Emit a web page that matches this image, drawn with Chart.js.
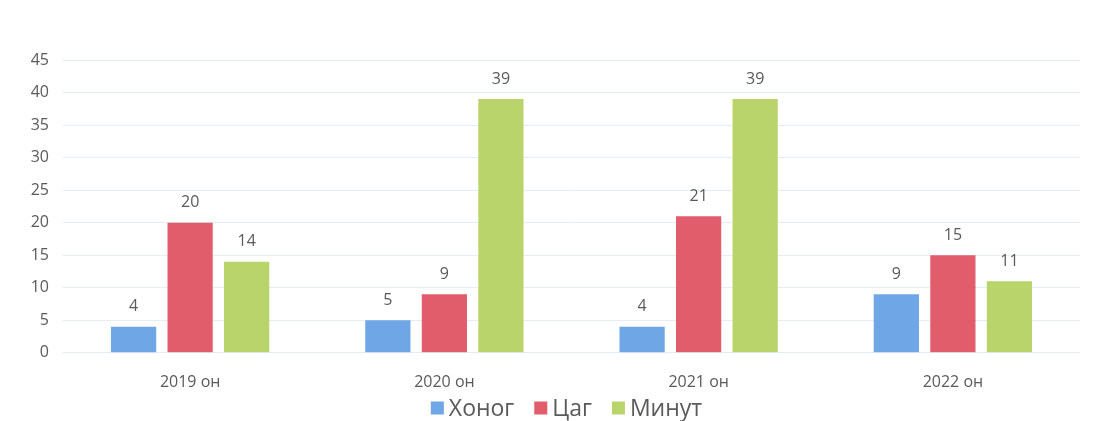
<!DOCTYPE html>
<html>
<head>
<meta charset="utf-8">
<script src="https://cdn.jsdelivr.net/npm/chart.js@4"></script>
<style>
  body { margin: 0; background: #ffffff; }
  #wrap { width: 1111px; height: 421px; position: relative; }
</style>
</head>
<body>
<div id="wrap"><canvas id="chart"></canvas></div>
<script>
// data
const years = ["2019 он", "2020 он", "2021 он", "2022 он"];
const khonog = [4, 5, 4, 9];
const tsag = [20, 9, 21, 15];
const minut = [14, 39, 39, 11];
const yTicks = [0, 5, 10, 15, 20, 25, 30, 35, 40, 45];

const textColor = "#5a5a5a";
const fontFamily = "'Open Sans', 'DejaVu Sans', sans-serif";

// labels above each bar
const valueLabels = {
  id: "valueLabels",
  afterDatasetsDraw(chart) {
    const ctx = chart.ctx;
    ctx.save();
    ctx.font = "16px " + fontFamily;
    ctx.fillStyle = textColor;
    ctx.textAlign = "center";
    ctx.textBaseline = "bottom";
    chart.data.datasets.forEach((ds, i) => {
      chart.getDatasetMeta(i).data.forEach((bar, j) => {
        ctx.fillText(ds.data[j], bar.x, bar.y - 12);
      });
    });
    ctx.restore();
  },
};

// legend drawn under the x labels (built-in one takes too much room)
const bottomLegend = {
  id: "bottomLegend",
  afterDraw(chart) {
    const ctx = chart.ctx;
    const box = 13, gap = 5, spacing = 20;
    ctx.save();
    ctx.font = "23px " + fontFamily;
    ctx.textBaseline = "middle";
    const items = chart.data.datasets.map((ds) => ({
      text: ds.label,
      color: ds.backgroundColor,
      w: box + gap + ctx.measureText(ds.label).width,
    }));
    const total = items.reduce((s, it) => s + it.w, 0) + spacing * (items.length - 1);
    const area = chart.chartArea;
    let x = (area.left + area.right) / 2 - total / 2 - 5;
    const y = chart.height - 13;
    items.forEach((it) => {
      ctx.fillStyle = it.color;
      ctx.fillRect(x, y - box / 2, box, box);
      ctx.fillStyle = textColor;
      ctx.fillText(it.text, x + box + gap, y + 1);
      x += it.w + spacing;
    });
    ctx.restore();
  },
};

new Chart(document.getElementById("chart"), {
  type: "bar",
  data: {
    labels: years,
    datasets: [
      { label: "Хоног", data: khonog, backgroundColor: "#6fa6e6" },
      { label: "Цаг", data: tsag, backgroundColor: "#e15d6c" },
      { label: "Минут", data: minut, backgroundColor: "#b8d46b" },
    ],
  },
  options: {
    responsive: true,
    maintainAspectRatio: false,
    animation: false,
    categoryPercentage: 0.667,
    barPercentage: 0.8,
    layout: { padding: { top: 60, right: 31, left: 0, bottom: 9 } },
    scales: {
      y: {
        min: 0,
        max: 45,
        afterBuildTicks: (s) => { s.ticks = yTicks.map((v) => ({ value: v })); },
        afterFit: (s) => { s.width = 63; },
        ticks: { color: textColor, font: { family: fontFamily, size: 16 }, padding: 14 },
        grid: { color: "rgba(205,220,240,0.55)", drawTicks: false },
        border: { display: false },
      },
      x: {
        ticks: { color: textColor, font: { family: fontFamily, size: 16 }, padding: 20 },
        grid: { display: false, drawTicks: false },
        border: { display: false },
      },
    },
    plugins: {
      legend: { display: false },
      tooltip: { enabled: false },
    },
  },
  plugins: [valueLabels, bottomLegend],
});
</script>
</body>
</html>
